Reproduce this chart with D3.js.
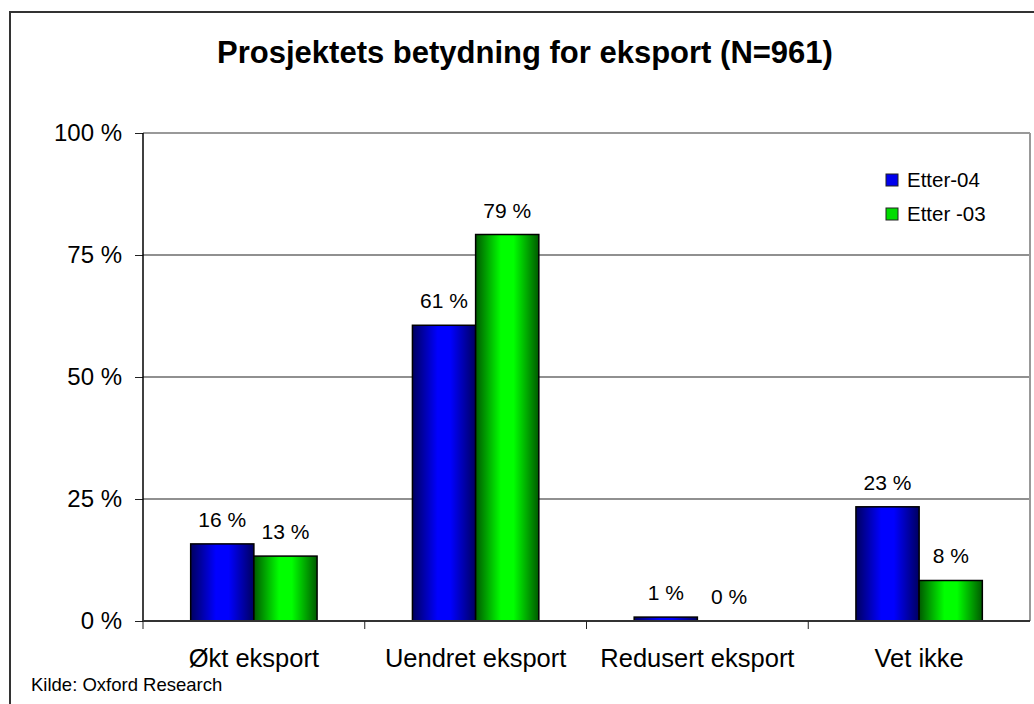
<!DOCTYPE html>
<html><head><meta charset="utf-8">
<script src="https://cdn.jsdelivr.net/npm/d3@7"></script>
<style>body{margin:0;background:#fff}svg{display:block;font-family:"Liberation Sans",Arial,sans-serif}</style>
</head><body><svg id="c" width="1034" height="704"></svg>
<script>
const categories = ["Økt eksport", "Uendret eksport", "Redusert eksport", "Vet ikke"];
const seriesNames = ["Etter-04", "Etter -03"];
const etter04 = [15.8, 60.6, 0.8, 23.4];
const etter03 = [13.3, 79.2, 0, 8.3];
const yTicks = [0, 25, 50, 75, 100];
const title = "Prosjektets betydning for eksport (N=961)";
const source = "Kilde: Oxford Research";

const svg = d3.select("#c");
const L = 143, R = 1030, T = 133, B = 621;
const defs = svg.append("defs");
function grad(id, dark, bright) {
  const g = defs.append("linearGradient").attr("id", id).attr("x1", 0).attr("x2", 1).attr("y1", 0).attr("y2", 0);
  g.append("stop").attr("offset", "0%").attr("stop-color", dark);
  g.append("stop").attr("offset", "40%").attr("stop-color", bright);
  g.append("stop").attr("offset", "60%").attr("stop-color", bright);
  g.append("stop").attr("offset", "100%").attr("stop-color", dark);
}
grad("gb", "#000060", "#0000ff");
grad("gg", "#005a00", "#00ff00");
const fills = ["url(#gb)", "url(#gg)"];
const legendFill = ["#0000ee", "#00dd00"];

// outer border
svg.append("rect").attr("x", 10).attr("y", 12).attr("width", 1040).attr("height", 720)
  .attr("fill", "none").attr("stroke", "#333").attr("stroke-width", 2);

svg.append("text").attr("x", 525).attr("y", 63).attr("text-anchor", "middle")
  .attr("font-size", 31).attr("font-weight", "bold").text(title);

const y = d3.scaleLinear().domain([0, 100]).range([B, T]);
const x0 = d3.scaleBand().domain(categories).range([L, R]).paddingInner(0.43).paddingOuter(0.215);
const x1 = d3.scaleBand().domain(seriesNames).range([0, x0.bandwidth()]);

// gridlines
svg.append("g").selectAll("line").data(yTicks.filter(d => d > 0)).join("line")
  .attr("x1", L).attr("x2", R).attr("y1", d => y(d)).attr("y2", d => y(d))
  .attr("stroke", d => d === 100 ? "#999" : "#222").attr("stroke-width", d => d === 100 ? 2 : 1.2);
// plot right border
svg.append("line").attr("x1", R).attr("x2", R).attr("y1", T).attr("y2", B)
  .attr("stroke", "#999").attr("stroke-width", 2);

// y axis
const yAx = svg.append("g").attr("transform", `translate(${L},0)`)
  .call(d3.axisLeft(y).tickValues(yTicks).tickSize(8).tickPadding(13).tickFormat(d => d + " %"));
yAx.select(".domain").remove();
yAx.selectAll("line").attr("stroke", "#222");
yAx.selectAll("text").attr("font-size", 24).attr("fill", "#000").attr("font-family", "Liberation Sans, Arial, sans-serif");
svg.append("line").attr("x1", L).attr("x2", L).attr("y1", T).attr("y2", B + 1).attr("stroke", "#000").attr("stroke-width", 1.5);

// bars
const data = categories.map((c, i) => ({c, v: [etter04[i], etter03[i]]}));
const grp = svg.append("g").selectAll("g").data(data).join("g")
  .attr("transform", d => `translate(${x0(d.c)},0)`);
grp.selectAll("rect").data(d => d.v.map((v, k) => ({v, k}))).join("rect")
  .attr("x", d => x1(seriesNames[d.k])).attr("width", x1.bandwidth())
  .attr("y", d => y(d.v)).attr("height", d => B - y(d.v))
  .attr("fill", d => fills[d.k]).attr("stroke", d => d.v > 0 ? "#000" : "none").attr("stroke-width", 1.5);
grp.selectAll("text").data(d => d.v.map((v, k) => ({v, k}))).join("text")
  .attr("x", d => x1(seriesNames[d.k]) + x1.bandwidth() / 2)
  .attr("y", d => y(d.v) - 17).attr("text-anchor", "middle").attr("font-size", 21)
  .text(d => Math.round(d.v) + " %");

// x axis
svg.append("line").attr("x1", L).attr("x2", R).attr("y1", B).attr("y2", B).attr("stroke", "#333").attr("stroke-width", 1.8);
svg.append("g").selectAll("line").data(d3.range(0, categories.length)).join("line")
  .attr("x1", i => L + (R - L) * i / categories.length)
  .attr("x2", i => L + (R - L) * i / categories.length)
  .attr("y1", B).attr("y2", B + 8).attr("stroke", "#222");
svg.append("g").selectAll("text").data(categories).join("text")
  .attr("x", d => x0(d) + x0.bandwidth() / 2).attr("y", 667).attr("text-anchor", "middle")
  .attr("font-size", 25.5).text(d => d);

svg.append("text").attr("x", 31).attr("y", 691).attr("font-size", 18.5).text(source);

// legend
const lg = svg.append("g").selectAll("g").data(seriesNames).join("g")
  .attr("transform", (d, i) => `translate(886,${174 + i * 34})`);
lg.append("rect").attr("width", 12).attr("height", 12).attr("fill", (d, i) => legendFill[i]).attr("stroke", "#222").attr("stroke-width", 1);
lg.append("text").attr("x", 21).attr("y", 13).attr("font-size", 20.5).text(d => d);
</script></body></html>
